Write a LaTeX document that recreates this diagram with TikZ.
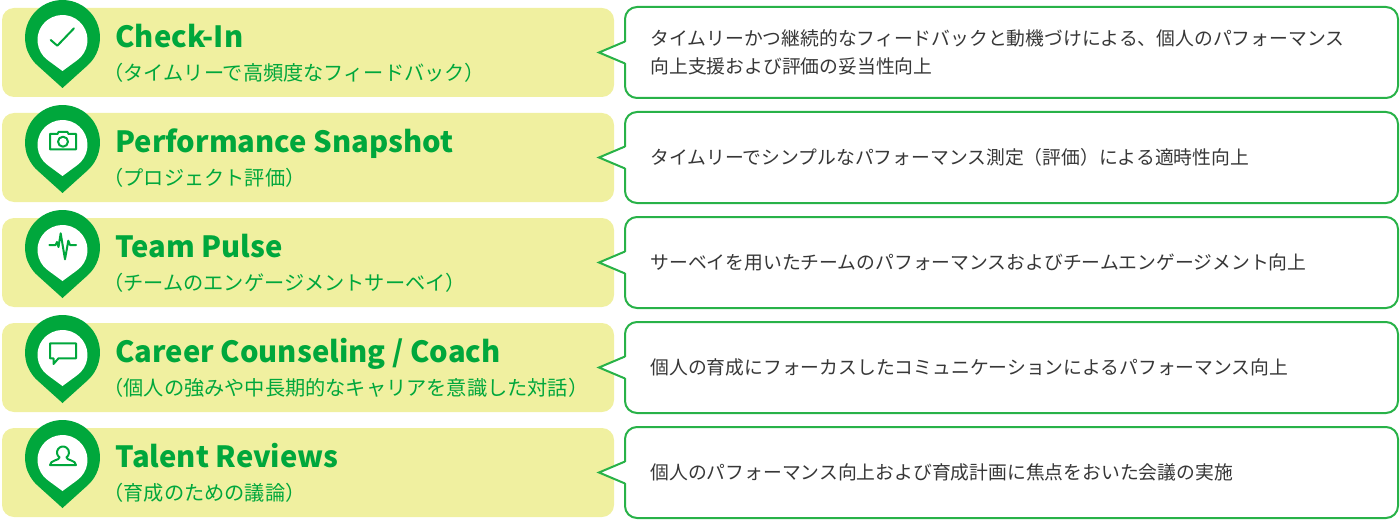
\documentclass[tikz,border=0pt]{standalone}
\usepackage{fontspec}
\setmainfont{Noto Sans CJK JP}
\usepackage{tikz}

\definecolor{pingreen}{RGB}{0,167,60}
\definecolor{linegreen}{RGB}{40,178,72}
\definecolor{rowyellow}{RGB}{240,240,160}
\definecolor{desctextgray}{RGB}{55,55,55}

\tikzset{
  rowbox/.style={fill=rowyellow, rounded corners=6pt, minimum width=306pt, minimum height=44.5pt, inner sep=0pt, outer sep=0pt},
  descbox/.style={draw=linegreen, line width=1pt, fill=white, rounded corners=6pt, minimum width=386.5pt, minimum height=45.5pt, inner sep=0pt, outer sep=0pt},
  titletext/.style={text=pingreen, font=\fontsize{14.6pt}{18pt}\selectfont\bfseries, inner sep=0pt},
  subtext/.style={text=pingreen, font=\fontsize{10.1pt}{12pt}\selectfont, inner sep=0pt},
  desctext/.style={text=desctextgray, font=\fontsize{9.4pt}{14pt}\selectfont, align=left, inner sep=0pt},
  iconline/.style={draw=pingreen, line width=1pt, line join=round, line cap=round}
}

\begin{document}
\begin{tikzpicture}[x=0.5pt,y=0.5pt]
\useasboundingbox (0,0) rectangle (1400,520);

\foreach \i/\ttl/\sub/\dsc in {
  1/{Check-In}/{（タイムリーで高頻度なフィードバック）}/{タイムリーかつ継続的なフィードバックと動機づけによる、個人のパフォーマンス\\向上支援および評価の妥当性向上},
  2/{Performance Snapshot}/{（プロジェクト評価）}/{タイムリーでシンプルなパフォーマンス測定（評価）による適時性向上},
  3/{Team Pulse}/{（チームのエンゲージメントサーベイ）}/{サーベイを用いたチームのパフォーマンスおよびチームエンゲージメント向上},
  4/{Career Counseling / Coach}/{（個人の強みや中長期的なキャリアを意識した対話）}/{個人の育成にフォーカスしたコミュニケーションによるパフォーマンス向上},
  5/{Talent Reviews}/{（育成のための議論）}/{個人のパフォーマンス向上および育成計画に焦点をおいた会議の実施}}
{
  \pgfmathsetmacro\Y{467.5-105*(\i-1)}
  % left band and right callout
  \node[rowbox] (row\i) at (308,\Y) {};
  \node[descbox] (desc\i) at (1011.5,\Y) {};
  \coordinate (tip\i) at (599,\Y);
  \fill[white] ([xshift=1pt,yshift=5.5pt]desc\i.west) -- (tip\i) -- ([xshift=1pt,yshift=-5.5pt]desc\i.west) -- cycle;
  \draw[linegreen, line width=1pt] ([yshift=5.5pt]desc\i.west) -- (tip\i) -- ([yshift=-5.5pt]desc\i.west);
  % pin
  \coordinate (icon\i) at (62.5,\Y+12.5);
  \begin{scope}[shift={(icon\i)}]
    \fill[pingreen] (0,-48) -- (25.13,-25.33) arc[start angle=-47.9, end angle=227.9, radius=18.75pt] -- cycle;
    \fill[white] (0,-31) -- (14.78,-20.16) arc[start angle=-53.75, end angle=233.75, radius=12.5pt] -- cycle;
  \end{scope}
  % texts
  \node[titletext, anchor=base west] (ttl\i) at (115,\Y+5) {\ttl};
  \node[subtext, anchor=west] (sub\i) at (103,\Y-20) {\sub};
  \node[desctext, anchor=west] (txt\i) at (650,\Y) {\dsc};
}

% icons
\begin{scope}[shift={(icon1)}]
  \draw[iconline] (-11.8,0) -- (-5.2,-5.7) -- (11.5,11.7);
\end{scope}
\begin{scope}[shift={(icon2)}]
  \draw[iconline] (-12.5,-4.3) -- (13.5,-4.3) -- (13.5,11) -- (6,11) -- (5,13) -- (-4,13) -- (-5,11) -- (-12.5,11) -- cycle;
  \draw[iconline] (0.5,3.3) circle[radius=2.5pt];
\end{scope}
\begin{scope}[shift={(icon3)}]
  \draw[iconline] (-13.2,5) -- (-7,5) -- (-5.5,8) -- (-4,3) -- (-1.8,16.7) -- (2.5,-9.3) -- (5.8,9.3) -- (7.5,5) -- (13.5,5);
\end{scope}
\begin{scope}[shift={(icon4)}]
  \draw[iconline] (-12.5,-3.3) -- (-12.5,11.7) -- (13.5,11.7) -- (13.5,-3.3) -- (-4,-3.3) -- (-9,-9) -- (-9,-3.3) -- cycle;
\end{scope}
\begin{scope}[shift={(icon5)}]
  \draw[iconline] (-12.5,-5) .. controls (-12.5,0) and (-3,-0.5) .. (-2.94,2.59) arc[start angle=235, end angle=-55, radius=3pt] .. controls (4,-0.5) and (13.5,0) .. (13.5,-5) -- cycle;
\end{scope}
\end{tikzpicture}
\end{document}
